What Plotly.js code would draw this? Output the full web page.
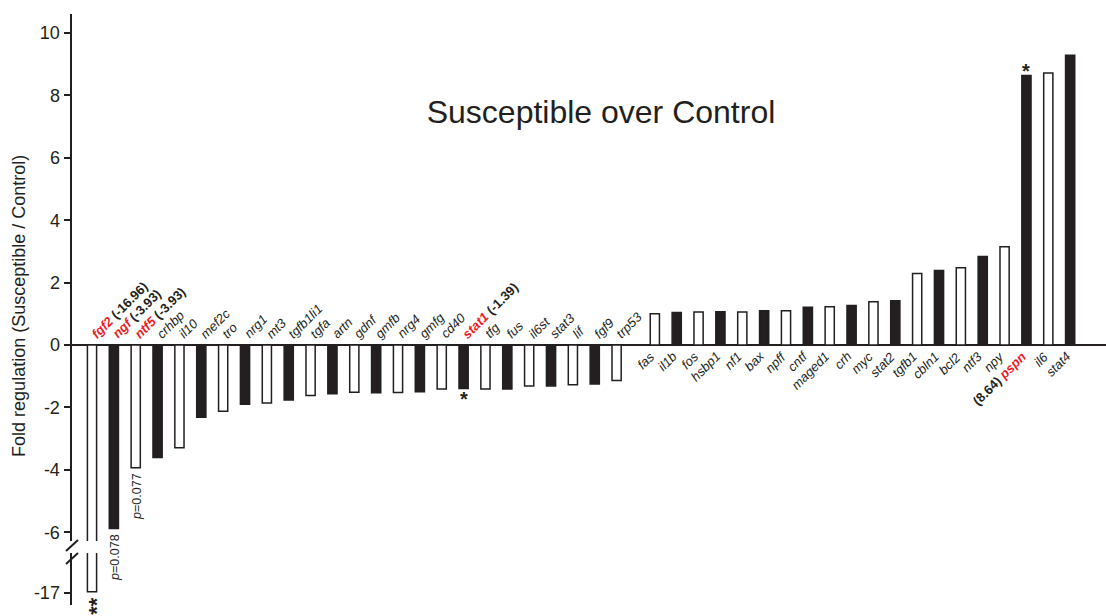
<!DOCTYPE html>
<html>
<head>
<meta charset="utf-8">
<script src="https://cdn.plot.ly/plotly-3.0.1.min.js"></script>
<style>html,body{margin:0;padding:0;background:#fff;}#chart{width:1106px;height:616px;}</style>
</head>
<body>
<div id="chart"></div>
<script>
// ---- data ----
const genes = ['fgf2','ngf','ntf5','crhbp','il10','mef2c','tro','nrg1','mt3','tgfb1li1','tgfa','artn','gdnf','gmfb','nrg4','gmfg','cd40','stat1','tfg','fus','il6st','stat3','lif','fgf9','trp53',
               'fas','il1b','fos','hsbp1','nf1','bax','npff','cntf','maged1','crh','myc','stat2','tgfb1','cbln1','bcl2','ntf3','npy','pspn','il6','stat4'];
const foldValues = [-16.96,-5.88,-3.93,-3.60,-3.29,-2.31,-2.12,-1.90,-1.86,-1.76,-1.62,-1.56,-1.51,-1.53,-1.52,-1.50,-1.41,-1.39,-1.41,-1.41,-1.31,-1.31,-1.27,-1.25,-1.14,
                    1.00,1.04,1.06,1.07,1.06,1.10,1.10,1.21,1.23,1.27,1.39,1.42,2.29,2.39,2.48,2.84,3.15,8.64,8.72,9.29];
const fillKind = ['o','s','o','s','o','s','o','s','o','s','o','s','o','s','o','s','o','s','o','s','o','s','o','s','o',
                  'o','s','o','s','o','s','o','s','o','s','o','s','o','s','o','s','o','s','o','s'];
const highlightGenes = ['fgf2','ngf','ntf5','stat1','pspn'];
const highlightNotes = ['(-16.96)','(-3.93)','(-3.93)','(-1.39)','(8.64)'];
const pValueGenes = ['ngf','ntf5'];
const pValues = ['0.078','0.077'];
const starGenes = ['fgf2','stat1','pspn'];
const starTexts = ['**','*','*'];
const mainTicks = [-6,-4,-2,0,2,4,6,8,10];
const mainTickText = ['-6','-4','-2','0','2','4','6','8','10'];
const lowerTicks = [-17];
const lowerTickText = ['-17'];

// ---- styling / layout ----
const DARK = '#231f20', RED = '#ed1c24';
const FONT = 'Liberation Sans, Arial, Helvetica, sans-serif';
const GAP = 0.75;            // extra space between down- and up-regulated groups
const BAR_W = 0.42;
const xpos = genes.map((g,i) => foldValues[i] < 0 ? i : i + GAP);
const colors = fillKind.map(k => k === 's' ? DARK : '#ffffff');

const traces = [
  {type:'bar', x:xpos, y:foldValues, width:BAR_W, xaxis:'x', yaxis:'y',
   marker:{color:colors, line:{color:DARK, width:1.5}}, hoverinfo:'skip'},
  {type:'bar', x:[xpos[0]], y:[foldValues[0]], width:BAR_W, xaxis:'x2', yaxis:'y2',
   marker:{color:[colors[0]], line:{color:DARK, width:1.5}}, hoverinfo:'skip'}
];

const annotations = [];
genes.forEach((g,i) => {
  const h = highlightGenes.indexOf(g);
  const v = foldValues[i];
  let txt;
  if (h >= 0) {
    const name = '<span style="color:'+RED+'"><b><i>'+g+'</i></b></span>';
    const note = '<b>'+highlightNotes[h]+'</b>';
    txt = v < 0 ? name + ' ' + note : note + ' ' + name;
  } else {
    txt = '<i>'+g+'</i>';
  }
  if (v < 0) {
    annotations.push({x:xpos[i]-BAR_W/2-0.1, y:0, xref:'x', yref:'y', text:txt, showarrow:false,
      textangle:-45, xanchor:'left', yanchor:'bottom', yshift:1,
      font:{family:FONT, size:13, color:DARK}});
  } else {
    annotations.push({x:xpos[i]+BAR_W/2+0.05, y:0, xref:'x', yref:'y', text:txt, showarrow:false,
      textangle:-45, xanchor:'right', yanchor:'top', yshift:-1,
      font:{family:FONT, size:13, color:DARK}});
  }
});
pValueGenes.forEach((g,k) => {
  const i = genes.indexOf(g);
  annotations.push({x:xpos[i], y:foldValues[i], xref:'x', yref:'y', text:'<i>p</i>=' + pValues[k],
    showarrow:false, textangle:-90, xanchor:'center', yanchor:'top', yshift:-3, xshift:1,
    font:{family:FONT, size:12.5, color:DARK}});
});
starGenes.forEach((g,k) => {
  const i = genes.indexOf(g);
  const v = foldValues[i];
  const onLower = v < -10;
  const multi = starTexts[k].length > 1;
  annotations.push({x:xpos[i], y:v, xref:onLower ? 'x2' : 'x', yref:onLower ? 'y2' : 'y',
    text:'<b>'+starTexts[k]+'</b>', showarrow:false,
    textangle: multi ? -90 : 0,        // stacked vertically for the double star
    xanchor:'center', yanchor: v < 0 ? 'top' : 'bottom',
    xshift: multi ? 5 : 0,
    yshift: multi ? -3 : (v < 0 ? 2 : -9),
    font:{family:FONT, size: multi ? 22 : 20, color:DARK}});
});
// y-axis title (spans both axis segments)
annotations.push({xref:'paper', yref:'paper', x:-0.0513, y:0.506, xanchor:'center', yanchor:'middle',
  text:'Fold regulation (Susceptible / Control)', textangle:-90, showarrow:false,
  font:{family:FONT, size:18, color:DARK}});

const plotH = 616 - 14 - 11, plotW = 1106 - 72;
const py = p => (605 - p) / plotH;
const px = p => (p - 72) / plotW;
const shapes = [
  {type:'line', xref:'paper', yref:'paper', x0:px(66), y0:py(551), x1:px(78), y1:py(540), line:{color:DARK, width:2}},
  {type:'line', xref:'paper', yref:'paper', x0:px(66), y0:py(564), x1:px(78), y1:py(553), line:{color:DARK, width:2}}
];

const yCommon = {showline:true, linecolor:DARK, linewidth:2.5, ticks:'outside', ticklen:6, tickwidth:2,
  tickcolor:DARK, showgrid:false, tickfont:{family:FONT, size:18, color:DARK}, fixedrange:true};

const layout = {
  width:1106, height:616,
  margin:{l:72, r:0, t:14, b:11, pad:0},
  paper_bgcolor:'#ffffff', plot_bgcolor:'#ffffff',
  showlegend:false,
  title:{text:'Susceptible over Control', xref:'container', yref:'container', x:601/1106, xanchor:'center',
         y:1-112/616, yanchor:'middle', font:{family:FONT, size:32, color:DARK}},
  xaxis:{range:[-0.915, 46.39], visible:false, anchor:'y', fixedrange:true},
  xaxis2:{matches:'x', visible:false, anchor:'y2', fixedrange:true},
  yaxis:Object.assign({}, yCommon, {domain:[py(541), 1], range:[-6.28, 10.61], tickvals:mainTicks, ticktext:mainTickText,
         zeroline:true, zerolinecolor:DARK, zerolinewidth:2.2, anchor:'x'}),
  yaxis2:Object.assign({}, yCommon, {domain:[0, py(553)], range:[-17.385, -15.718], tickvals:lowerTicks, ticktext:lowerTickText,
         zeroline:false, anchor:'x2'}),
  annotations:annotations,
  shapes:shapes,
  bargap:0
};

Plotly.newPlot('chart', traces, layout, {displayModeBar:false, staticPlot:true});
</script>
</body>
</html>
